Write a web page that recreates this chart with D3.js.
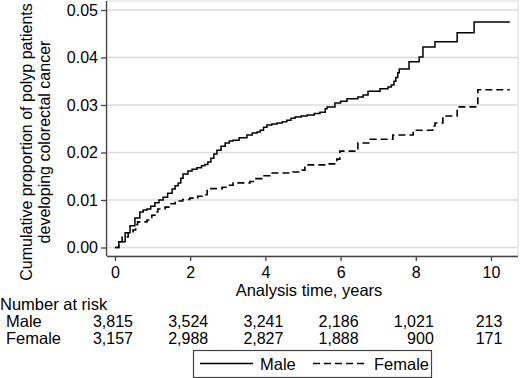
<!DOCTYPE html>
<html><head><meta charset="utf-8">
<script src="https://cdn.jsdelivr.net/npm/d3@7"></script>
<style>
html,body{margin:0;padding:0;background:#fff;}
svg{display:block;font-family:"Liberation Sans",Arial,Helvetica,sans-serif;}
</style></head>
<body><svg id="c" width="520" height="378"></svg>
<script>
const yTicks = [0, 0.01, 0.02, 0.03, 0.04, 0.05];
const xTicks = [0, 2, 4, 6, 8, 10];
const maleTime = [0,0.1,0.27,0.4,0.53,0.66,0.75,0.85,0.95,1.06,1.17,1.28,1.4,1.52,1.6,1.68,1.75,1.81,1.94,2.05,2.18,2.3,2.39,2.47,2.55,2.63,2.71,2.82,2.93,3.04,3.14,3.3,3.51,3.65,3.78,3.86,3.95,4.04,4.17,4.31,4.45,4.57,4.68,4.79,4.95,5.11,5.3,5.45,5.59,5.64,5.85,6.0,6.17,6.46,6.6,6.73,7.05,7.26,7.35,7.42,7.47,7.52,7.56,7.82,8.09,8.19,8.51,9.10,9.55,10.5];
const maleValue = [0,0.0012,0.0031,0.0046,0.0062,0.0075,0.0079,0.0081,0.0087,0.0094,0.0100,0.0106,0.0114,0.0123,0.0130,0.0136,0.0146,0.0155,0.0161,0.0165,0.0168,0.0172,0.0175,0.0180,0.0188,0.0197,0.0205,0.0213,0.0220,0.0224,0.0226,0.0231,0.0237,0.0241,0.0243,0.0247,0.0253,0.0258,0.0260,0.0262,0.0265,0.0268,0.0272,0.0275,0.0277,0.0279,0.0282,0.0285,0.0292,0.0296,0.0304,0.0308,0.0313,0.0317,0.0321,0.0329,0.0334,0.0338,0.0342,0.0350,0.0358,0.0368,0.0376,0.0391,0.0401,0.0422,0.0433,0.0452,0.0475,0.0475];
const femaleTime = [0,0.1,0.19,0.35,0.48,0.55,0.6,0.85,0.98,1.06,1.14,1.33,1.47,1.6,1.8,1.99,2.2,2.34,2.45,2.5,2.85,3.0,3.14,3.59,3.75,3.91,4.12,4.73,4.92,5.05,5.6,5.90,5.98,6.46,6.78,7.39,7.93,8.45,8.51,8.72,9.10,9.65,10.5];
const femaleValue = [0,0.0012,0.0022,0.0031,0.0037,0.0048,0.0054,0.0058,0.0068,0.0075,0.0081,0.0085,0.0092,0.0098,0.0101,0.0104,0.0108,0.0111,0.0120,0.0124,0.0127,0.0131,0.0136,0.0139,0.0145,0.0151,0.0157,0.0159,0.0163,0.0174,0.0176,0.0186,0.0203,0.0220,0.0228,0.0237,0.0247,0.0256,0.0262,0.0277,0.0296,0.0332,0.0332];
const riskGroups = ["Male", "Female"];
const riskMale = ["3,815","3,524","3,241","2,186","1,021","213"];
const riskFemale = ["3,157","2,988","2,827","1,888","900","171"];

const svg = d3.select("#c");
const x = d3.scaleLinear().domain([0, 10]).range([115, 491]);
const y = d3.scaleLinear().domain([0, 0.05]).range([247.5, 10]);
const L = 107, R = 518, T = 1, B = 256;

svg.append("rect").attr("x", L).attr("y", T).attr("width", R - L).attr("height", B - T)
  .attr("fill", "none").attr("stroke", "#d9d9d9").attr("stroke-width", 1);
svg.append("g").selectAll("line").data(yTicks).join("line")
  .attr("x1", L).attr("x2", R).attr("y1", d => y(d)).attr("y2", d => y(d))
  .attr("stroke", "#dcdcdc").attr("stroke-width", 1.5);

const gy = svg.append("g").attr("transform", `translate(${L},0)`)
  .call(d3.axisLeft(y).tickValues(yTicks).tickFormat(d3.format(".2f")).tickSize(6).tickPadding(3));
const gx = svg.append("g").attr("transform", `translate(0,${B})`)
  .call(d3.axisBottom(x).tickValues(xTicks).tickSize(5).tickPadding(6));
[gy, gx].forEach(g => {
  g.select(".domain").attr("stroke", "#444").attr("stroke-width", 1.3);
  g.selectAll(".tick line").attr("stroke", "#444").attr("stroke-width", 1.3);
  g.selectAll("text").attr("fill", "#000").style("font-size", "16px").style("font-family", "Liberation Sans, Arial, sans-serif");
});
gy.select(".domain").attr("d", `M-0.5,${T}V${B}`);
gx.select(".domain").attr("d", `M${L},0.5H${R}`);

const line = d3.line().curve(d3.curveStepAfter).x(d => x(d[0])).y(d => y(d[1]));
const male = maleTime.map((t, i) => [t, maleValue[i]]);
const female = femaleTime.map((t, i) => [t, femaleValue[i]]);
svg.append("path").datum(male).attr("d", line).attr("fill", "none").attr("stroke", "#000").attr("stroke-width", 1.5);
svg.append("path").datum(female).attr("d", line).attr("fill", "none").attr("stroke", "#000").attr("stroke-width", 1.6).attr("stroke-dasharray", "7,4");

svg.append("text").attr("x", 309).attr("y", 296).attr("text-anchor", "middle").style("font-size", "16.5px").text("Analysis time, years");
const yt = svg.append("text").attr("transform", "translate(0,142) rotate(-90)").attr("text-anchor", "middle").style("font-size", "16px");
yt.append("tspan").attr("x", 0).attr("y", 32).text("Cumulative proportion of polyp patients");
yt.append("tspan").attr("x", 0).attr("y", 50).text("developing colorectal cancer");

svg.append("text").attr("x", 0).attr("y", 310).style("font-size", "16.5px").text("Number at risk");
const rows = [riskMale, riskFemale];
const rowY = [327, 344];
riskGroups.forEach((g, i) => {
  svg.append("text").attr("x", 6).attr("y", rowY[i]).style("font-size", "16.5px").text(g);
});
const tmp = svg.append("text").style("font-size", "16px");
const colW = xTicks.map((t, j) => d3.max(rows, r => { tmp.text(r[j]); return tmp.node().getComputedTextLength(); }));
tmp.remove();
rows.forEach((r, i) => {
  svg.append("g").selectAll("text").data(xTicks).join("text")
    .attr("x", (t, j) => x(t) - 2 + colW[j] / 2).attr("y", rowY[i])
    .attr("text-anchor", "end").style("font-size", "16px").text((t, j) => r[j]);
});

svg.append("rect").attr("x", 193.5).attr("y", 350.5).attr("width", 238).attr("height", 27)
  .attr("fill", "#fff").attr("stroke", "#444").attr("stroke-width", 1.2);
svg.append("line").attr("x1", 200).attr("x2", 253).attr("y1", 363.5).attr("y2", 363.5).attr("stroke", "#000").attr("stroke-width", 1.5);
svg.append("text").attr("x", 260).attr("y", 370).style("font-size", "16.5px").text("Male");
svg.append("line").attr("x1", 313).attr("x2", 368).attr("y1", 363.5).attr("y2", 363.5).attr("stroke", "#000").attr("stroke-width", 1.6).attr("stroke-dasharray", "7,4");
svg.append("text").attr("x", 374).attr("y", 370).style("font-size", "16.5px").text("Female");
</script></body></html>
